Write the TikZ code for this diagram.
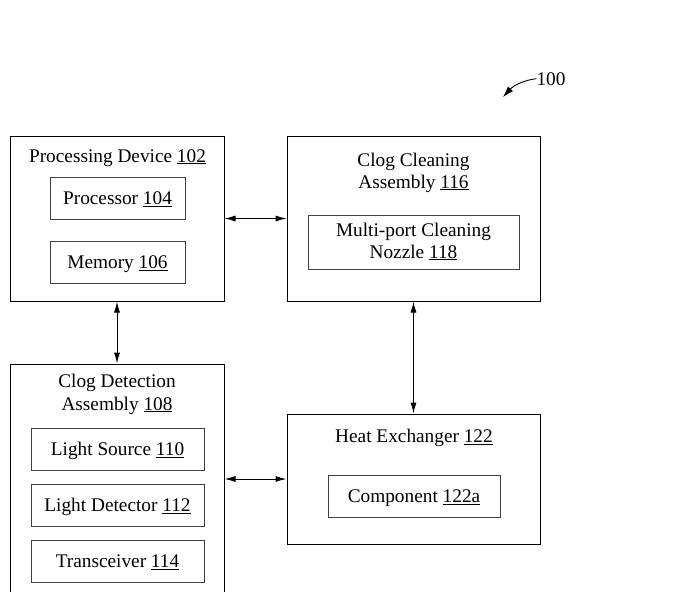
\documentclass[tikz,border=0pt]{standalone}
\usepackage{fontspec}
\setmainfont{Liberation Serif}
\usetikzlibrary{arrows.meta}
\begin{document}
\begin{tikzpicture}[x=1pt,y=-1pt,
  outerbox/.style={draw=black, line width=1pt, rectangle, inner sep=0pt},
  innerbox/.style={draw=black!75, line width=1pt, rectangle, inner sep=0pt, text height=12.6pt, text depth=0pt},
  lbl/.style={inner sep=0pt, anchor=base},
  conn/.style={line width=1pt, {Latex[length=11pt,width=6pt]}-{Latex[length=11pt,width=6pt]}},
  font=\fontsize{19.3}{22}\selectfont]
\useasboundingbox (0,0) rectangle (684,591);
\clip (0,0) rectangle (684,591);

% Processing device
\node[outerbox, minimum width=214pt, minimum height=165pt] (pd) at (117,218.5) {};
\node[lbl] (pdt) at (117.5,162) {Processing Device \underline{102}};
\node[innerbox, minimum width=135pt, minimum height=42pt] (proc) at (117.5,198) {Processor \underline{104}};
\node[innerbox, minimum width=135pt, minimum height=42pt] (mem) at (117.5,262.5) {Memory \underline{106}};

% Clog cleaning assembly
\node[outerbox, minimum width=253pt, minimum height=165pt] (cc) at (413.5,218.5) {};
\node[lbl] (cct1) at (413.5,166) {Clog Cleaning};
\node[lbl] (cct2) at (413.5,188) {Assembly \underline{116}};
\node[innerbox, minimum width=211pt, minimum height=54pt] (noz) at (413.5,242) {};
\node[lbl] (noz1) at (413.5,236) {Multi-port Cleaning};
\node[lbl] (noz2) at (413.5,258) {Nozzle \underline{118}};

% Clog detection assembly
\node[outerbox, minimum width=214pt, minimum height=256pt] (cd) at (117,492) {};
\node[lbl] (cdt1) at (117,387) {Clog Detection};
\node[lbl] (cdt2) at (117,410) {Assembly \underline{108}};
\node[innerbox, minimum width=173pt, minimum height=42pt] (ls) at (117.5,449) {Light Source \underline{110}};
\node[innerbox, minimum width=173pt, minimum height=42pt] (ld) at (117.5,505) {Light Detector \underline{112}};
\node[innerbox, minimum width=173pt, minimum height=42pt] (tr) at (117.5,561) {Transceiver \underline{114}};

% Heat exchanger
\node[outerbox, minimum width=253pt, minimum height=130pt] (he) at (413.5,479) {};
\node[lbl] (het) at (414,442.7) {Heat Exchanger \underline{122}};
\node[innerbox, minimum width=172pt, minimum height=42pt] (comp) at (414,496) {Component \underline{122a}};

% connectors
\draw[conn] (pd) -- (cc);
\draw[conn] (pd.south) -- (cd.north);
\draw[conn] (cc.south) -- (he.north);
\draw[conn] (he.west -| cd.east) -- (he.west);

% reference numeral
\node[lbl] (ref) at (551,85) {100};
\coordinate (reftip) at (503,97);
\draw[line width=0.9pt, -{Latex[length=11pt,width=7pt]}] (ref.west) .. controls (525,80) and (514,85) .. (reftip);
\end{tikzpicture}
\end{document}
